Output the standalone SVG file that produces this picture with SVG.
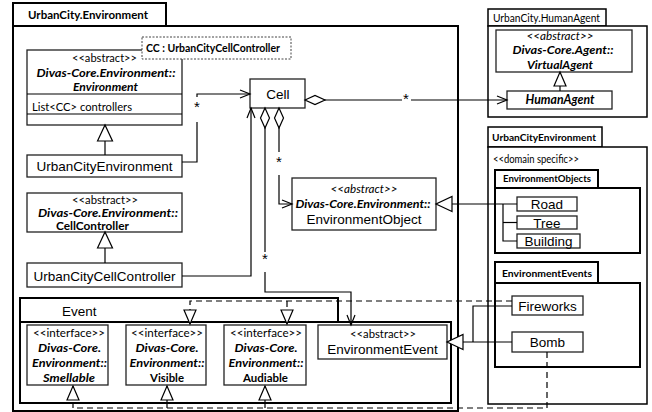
<svg xmlns="http://www.w3.org/2000/svg" width="652" height="412" viewBox="0 0 652 412">
  <style>
    .pkg { fill: #fff; stroke: #000; stroke-width: 2; }
    .pkg2 { fill: #fff; stroke: #000; stroke-width: 1.5; }
    .cls { fill: #fff; stroke: #222; stroke-width: 1.3; }
    .tmpl { fill: #fff; stroke: #444; stroke-width: 1; stroke-dasharray: 2 1.5; }
    .ln { fill: none; stroke: #000; stroke-width: 1.2; }
    .dash { stroke-dasharray: 6 4; }
    text { fill: #000; }
    .c { font-family: Lato, "Open Sans", "DejaVu Sans", sans-serif; }
    .a { font-family: "Liberation Sans", Arial, sans-serif; font-size: 13.5px; }
    .b { font-weight: bold; }
    .i { font-style: italic; }
    .bi { font-weight: bold; font-style: italic; }
    .m { text-anchor: middle; }
    .star { font-family: "Liberation Sans", Arial, sans-serif; font-size: 15px; text-anchor: middle; }
  </style>
  <defs>
    <marker id="open" viewBox="0 0 10 10" refX="10" refY="5" markerWidth="10" markerHeight="10" markerUnits="userSpaceOnUse" orient="auto" overflow="visible">
      <path d="M0,1 L10,5 L0,9" fill="none" stroke="#000" stroke-width="1.2"/>
    </marker>
    <marker id="tri" viewBox="0 0 16 15" refX="16" refY="7.5" markerWidth="16" markerHeight="15" markerUnits="userSpaceOnUse" orient="auto" overflow="visible">
      <path d="M0,0 L16,7.5 L0,15 Z" fill="#fff" stroke="#000" stroke-width="1.2"/>
    </marker>
    <marker id="tri-s" viewBox="0 0 14 12" refX="14" refY="6" markerWidth="14" markerHeight="12" markerUnits="userSpaceOnUse" orient="auto" overflow="visible">
      <path d="M0,0 L14,6 L0,12 Z" fill="#fff" stroke="#000" stroke-width="1.2"/>
    </marker>
    <marker id="dia" viewBox="0 0 20 10" refX="0" refY="5" markerWidth="20" markerHeight="10" markerUnits="userSpaceOnUse" orient="auto" overflow="visible">
      <path d="M0,5 L10,0.5 L20,5 L10,9.5 Z" fill="#fff" stroke="#000" stroke-width="1.2"/>
    </marker>
  </defs>

  <!-- package UrbanCity.Environment -->
  <g id="pkg-urbancity-environment">
    <rect class="pkg" x="13" y="3" width="153" height="23"/>
    <rect class="pkg" x="13" y="26" width="445" height="385"/>
    <text class="c b" x="28" y="19" font-size="12" textLength="120" lengthAdjust="spacingAndGlyphs">UrbanCity.Environment</text>
  </g>

  <!-- package UrbanCity.HumanAgent -->
  <g id="pkg-humanagent">
    <rect class="pkg2" x="488" y="9" width="118" height="17"/>
    <rect class="pkg2" x="488" y="26" width="159" height="91"/>
    <text class="c" x="493" y="22" font-size="11" textLength="107" lengthAdjust="spacingAndGlyphs">UrbanCity.HumanAgent</text>
  </g>

  <!-- package UrbanCityEnvironment -->
  <g id="pkg-urbancityenvironment">
    <rect class="pkg2" x="488" y="127" width="114" height="20"/>
    <rect class="pkg2" x="488" y="147" width="159" height="257"/>
    <text class="c b" x="492" y="141" font-size="10" textLength="104" lengthAdjust="spacingAndGlyphs">UrbanCityEnvironment</text>
    <text class="c" x="493" y="163" font-size="10.5" textLength="86" lengthAdjust="spacingAndGlyphs">&lt;&lt;domain specific&gt;&gt;</text>
  </g>

  <g id="pkg-environmentobjects">
    <rect class="pkg" x="495" y="170" width="103" height="18"/>
    <rect class="pkg" x="495" y="188" width="145" height="65"/>
    <text class="c b" x="503" y="182" font-size="10" textLength="88" lengthAdjust="spacingAndGlyphs">EnvironmentObjects</text>
  </g>

  <g id="pkg-environmentevents">
    <rect class="pkg" x="495" y="262" width="103" height="21"/>
    <rect class="pkg" x="495" y="283" width="145" height="84"/>
    <text class="c b" x="502" y="277" font-size="10" textLength="90" lengthAdjust="spacingAndGlyphs">EnvironmentEvents</text>
  </g>

  <!-- package Event -->
  <g id="pkg-event">
    <rect class="pkg" x="20" y="298" width="318" height="24"/>
    <rect class="pkg" x="20" y="322" width="431" height="81"/>
    <text class="a" x="62" y="316">Event</text>
  </g>

  <!-- classes -->
  <g id="environment">
    <rect class="cls" x="27" y="50" width="155" height="75"/>
    <line class="ln" x1="27" y1="94" x2="182" y2="94"/>
    <line class="ln" x1="27" y1="114" x2="182" y2="114"/>
    <text class="c m" x="104.5" y="62" font-size="11" textLength="65" lengthAdjust="spacingAndGlyphs">&lt;&lt;abstract&gt;&gt;</text>
    <text class="c m bi" x="106" y="77" font-size="11.5" textLength="139" lengthAdjust="spacingAndGlyphs">Divas-Core.Environment::</text>
    <text class="c m bi" x="105.5" y="91" font-size="11.5" textLength="65" lengthAdjust="spacingAndGlyphs">Environment</text>
    <text class="c" x="32" y="111" font-size="12" textLength="100" lengthAdjust="spacingAndGlyphs">List&lt;CC&gt; controllers</text>
  </g>

  <g id="cc-template">
    <rect class="tmpl" x="142" y="37" width="149" height="22"/>
    <text class="c b" x="146" y="52" font-size="11" textLength="134" lengthAdjust="spacingAndGlyphs">CC : UrbanCityCellController</text>
  </g>

  <g id="urbancityenvironment-class">
    <rect class="cls" x="27" y="155" width="155" height="22"/>
    <text class="a m" x="104.5" y="171">UrbanCityEnvironment</text>
  </g>

  <g id="cellcontroller">
    <rect class="cls" x="27" y="193" width="155" height="39"/>
    <text class="c m" x="105" y="203.5" font-size="10.5" textLength="66" lengthAdjust="spacingAndGlyphs">&lt;&lt;abstract&gt;&gt;</text>
    <text class="c m bi" x="108" y="216.5" font-size="10.8" textLength="140" lengthAdjust="spacingAndGlyphs">Divas-Core.Environment::</text>
    <text class="c m b" x="92.5" y="229.5" font-size="10.8" textLength="73" lengthAdjust="spacingAndGlyphs">CellController</text>
  </g>

  <g id="urbancitycellcontroller">
    <rect class="cls" x="27" y="263" width="155" height="24"/>
    <text class="a m" x="104.5" y="281">UrbanCityCellController</text>
  </g>

  <g id="cell">
    <rect class="cls" x="250" y="79" width="55" height="29"/>
    <text class="a m" x="278" y="99">Cell</text>
  </g>

  <g id="environmentobject">
    <rect class="cls" x="292" y="178" width="144" height="52"/>
    <text class="c m i" x="364" y="193" font-size="11.5" textLength="67" lengthAdjust="spacingAndGlyphs">&lt;&lt;abstract&gt;&gt;</text>
    <text class="c m bi" x="363" y="208" font-size="12" textLength="135" lengthAdjust="spacingAndGlyphs">Divas-Core.Environment::</text>
    <text class="a m" x="364" y="224">EnvironmentObject</text>
  </g>

  <g id="virtualagent">
    <rect class="cls" x="496" y="30" width="136" height="42"/>
    <text class="c m i" x="560" y="39.5" font-size="11.5" textLength="67" lengthAdjust="spacingAndGlyphs">&lt;&lt;abstract&gt;&gt;</text>
    <text class="c m bi" x="563" y="54" font-size="12" textLength="101" lengthAdjust="spacingAndGlyphs">Divas-Core.Agent::</text>
    <text class="c m bi" x="560" y="68.5" font-size="12" textLength="66" lengthAdjust="spacingAndGlyphs">VirtualAgent</text>
  </g>

  <g id="humanagent">
    <rect class="cls" x="507" y="91" width="105" height="18"/>
    <text class="c m bi" x="560" y="104" font-size="12.5" textLength="69" lengthAdjust="spacingAndGlyphs">HumanAgent</text>
  </g>

  <g id="road">
    <rect class="cls" x="517" y="197" width="60" height="14"/>
    <text class="a m" x="547" y="209">Road</text>
  </g>
  <g id="tree">
    <rect class="cls" x="517" y="216" width="60" height="13"/>
    <text class="a m" x="547" y="227.5">Tree</text>
  </g>
  <g id="building">
    <rect class="cls" x="517" y="234" width="63" height="14"/>
    <text class="a m" x="548.5" y="246">Building</text>
  </g>

  <g id="fireworks">
    <rect class="cls" x="512" y="296" width="71" height="19"/>
    <text class="a m" x="547.5" y="310.5">Fireworks</text>
  </g>
  <g id="bomb">
    <rect class="cls" x="512" y="332" width="71" height="20"/>
    <text class="a m" x="547.5" y="347">Bomb</text>
  </g>

  <g id="smellable">
    <rect class="cls" x="27" y="325" width="81" height="60"/>
    <text class="c m" x="69" y="337" font-size="11.5" textLength="72" lengthAdjust="spacingAndGlyphs">&lt;&lt;interface&gt;&gt;</text>
    <text class="c m bi" x="69.5" y="352" font-size="12" textLength="63" lengthAdjust="spacingAndGlyphs">Divas-Core.</text>
    <text class="c m bi" x="69.5" y="367" font-size="12" textLength="75" lengthAdjust="spacingAndGlyphs">Environment::</text>
    <text class="c m bi" x="69" y="382" font-size="12" textLength="52" lengthAdjust="spacingAndGlyphs">Smellable</text>
  </g>
  <g id="visible">
    <rect class="cls" x="126" y="325" width="80" height="60"/>
    <text class="c m" x="167" y="337" font-size="11.5" textLength="72" lengthAdjust="spacingAndGlyphs">&lt;&lt;interface&gt;&gt;</text>
    <text class="c m bi" x="167" y="352" font-size="12" textLength="63" lengthAdjust="spacingAndGlyphs">Divas-Core.</text>
    <text class="c m bi" x="167" y="367" font-size="12" textLength="75" lengthAdjust="spacingAndGlyphs">Environment::</text>
    <text class="c m b" x="167" y="382" font-size="12" textLength="34" lengthAdjust="spacingAndGlyphs">Visible</text>
  </g>
  <g id="audiable">
    <rect class="cls" x="224" y="325" width="82" height="60"/>
    <text class="c m" x="266" y="337" font-size="11.5" textLength="72" lengthAdjust="spacingAndGlyphs">&lt;&lt;interface&gt;&gt;</text>
    <text class="c m bi" x="266" y="352" font-size="12" textLength="63" lengthAdjust="spacingAndGlyphs">Divas-Core.</text>
    <text class="c m bi" x="266" y="367" font-size="12" textLength="75" lengthAdjust="spacingAndGlyphs">Environment::</text>
    <text class="c m b" x="265.5" y="382" font-size="12" textLength="45" lengthAdjust="spacingAndGlyphs">Audiable</text>
  </g>

  <g id="environmentevent">
    <rect class="cls" x="318" y="325" width="129" height="34"/>
    <text class="c m" x="383" y="338" font-size="11.5" textLength="66" lengthAdjust="spacingAndGlyphs">&lt;&lt;abstract&gt;&gt;</text>
    <text class="a m" x="382.5" y="354">EnvironmentEvent</text>
  </g>

  <!-- connectors -->
  <g id="connectors">
    <!-- generalizations -->
    <path class="ln" d="M105,155 V125" marker-end="url(#tri)"/>
    <path class="ln" d="M105,263 V232" marker-end="url(#tri)"/>
    <path class="ln" d="M560,91 V72" marker-end="url(#tri-s)"/>
    <path class="ln" d="M517,204 H436" marker-end="url(#tri)"/>
    <path class="ln" d="M503,204 V241 H517"/>
    <path class="ln" d="M503,222.5 H517"/>
    <path class="ln" d="M512,342 H447" marker-end="url(#tri)"/>
    <path class="ln" d="M473,342 V306 H512"/>

    <!-- realizations -->
    <path class="ln dash" d="M512,301 H190 V324" marker-end="url(#tri-s)"/>
    <path class="ln dash" d="M287,301 V324" marker-end="url(#tri-s)"/>
    <path class="ln dash" d="M547,352 V408 H73 V386" marker-end="url(#tri-s)"/>
    <path class="ln" d="M167,408 V386" marker-end="url(#tri-s)"/>
    <path class="ln" d="M265,408 V386" marker-end="url(#tri-s)"/>

    <!-- UrbanCityEnvironment to Cell -->
    <path class="ln" d="M182,162 H197 V122"/>
    <path class="ln" d="M197,97 V94 H250" marker-end="url(#open)"/>
    <text class="star" x="197" y="112">*</text>

    <!-- Cell aggregates HumanAgent -->
    <path class="ln" d="M305,100 H402" marker-start="url(#dia)"/>
    <path class="ln" d="M411,100 H507" marker-end="url(#open)"/>
    <text class="star" x="406" y="104">*</text>

    <!-- Cell aggregates EnvironmentObject -->
    <path class="ln" d="M279,108 V152" marker-start="url(#dia)"/>
    <path class="ln" d="M279,175 V204 H292" marker-end="url(#open)"/>
    <text class="star" x="279" y="167">*</text>

    <!-- Cell aggregates EnvironmentEvent -->
    <path class="ln" d="M265,108 V252" marker-start="url(#dia)"/>
    <path class="ln" d="M265,272 V292 H351 V325" marker-end="url(#open)"/>
    <text class="star" x="265" y="264">*</text>

    <!-- UrbanCityCellController to Cell -->
    <path class="ln" d="M182,276 H251 V108" marker-end="url(#open)"/>
  </g>
</svg>
